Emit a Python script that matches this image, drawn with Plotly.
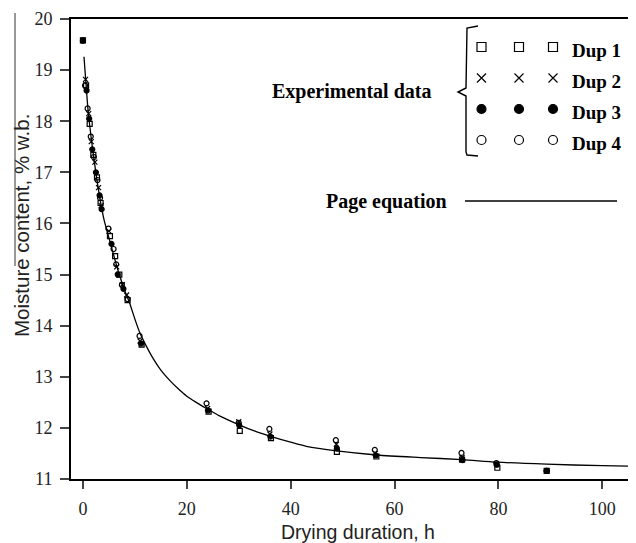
import plotly.graph_objects as go

# data
dup1_t = [0, 0.6, 1.3, 2.0, 2.7, 3.4, 5.2, 6.2, 7.0, 8.6, 11.3, 24.2, 30.2, 36.2, 48.9, 56.5, 73.0, 79.8, 89.3]
dup1_m = [19.58, 18.7, 17.95, 17.34, 16.9, 16.4, 15.75, 15.36, 15.0, 14.5, 13.63, 12.32, 11.94, 11.8, 11.53, 11.44, 11.38, 11.22, 11.16]

dup2_t = [0, 0.5, 1.1, 1.6, 2.3, 3.0, 3.5, 5.0, 6.5, 7.6, 8.4, 11.0, 24.0, 30.0, 36.0, 48.8, 56.3, 73.0, 79.6, 89.3]
dup2_m = [19.58, 18.82, 18.15, 17.6, 17.2, 16.7, 16.35, 15.85, 15.15, 14.8, 14.6, 13.7, 12.38, 12.12, 11.88, 11.68, 11.5, 11.42, 11.3, 11.16]

dup3_t = [0, 0.7, 1.2, 1.8, 2.5, 3.2, 3.6, 5.5, 6.7, 7.8, 11.2, 24.1, 30.1, 36.1, 48.9, 56.4, 73.1, 79.7, 89.3]
dup3_m = [19.58, 18.6, 18.05, 17.45, 17.0, 16.55, 16.28, 15.6, 15.0, 14.72, 13.65, 12.34, 12.05, 11.83, 11.6, 11.46, 11.37, 11.28, 11.16]

dup4_t = [0, 0.4, 0.9, 1.5, 2.1, 2.8, 3.3, 4.9, 5.9, 6.4, 7.5, 8.6, 10.9, 23.8, 30.0, 35.9, 48.7, 56.2, 72.9, 79.6, 89.3]
dup4_m = [19.58, 18.7, 18.25, 17.7, 17.3, 16.85, 16.5, 15.9, 15.5, 15.2, 14.8, 14.52, 13.8, 12.48, 12.1, 11.98, 11.76, 11.57, 11.51, 11.31, 11.16]

# Page equation curve
page_t = [0.2, 0.5, 1, 1.5, 2, 3, 4, 5, 6, 7, 8, 9, 10, 11, 12.2, 13.5, 15, 16.8, 18.4, 20, 21.8, 23.8, 26.4, 30.3, 33, 36.3,
          40, 43, 48.9, 56.6, 65, 73, 79.7, 89.3, 100, 107]
page_m = [19.26, 18.85, 18.2, 17.75, 17.35, 16.65, 16.1, 15.72, 15.35, 15.0, 14.7, 14.44, 14.13, 13.85, 13.6, 13.36, 13.13,
          12.92, 12.76, 12.62, 12.5, 12.38, 12.23, 12.05, 11.94, 11.83, 11.72, 11.64, 11.55, 11.47, 11.42, 11.38, 11.33,
          11.29, 11.26, 11.25]

x_ticks = [0, 20, 40, 60, 80, 100]
y_ticks = [11, 12, 13, 14, 15, 16, 17, 18, 19, 20]
dup_names = ['Dup 1', 'Dup 2', 'Dup 3', 'Dup 4']

# page pixels; the figure div sits 8px in from the page corner
PAGE_W, PAGE_H, OFF = 636, 543, 8
L, R, T, B = 71, 636, 19, 479


def px(x):
    return (x - L) / (R - L)


def py(y):
    return (B - y) / (B - T)


serif = 'Liberation Serif'
sans = 'Liberation Sans'
symbols = ['square-open', 'x-thin-open', 'circle', 'circle-open']


def label(x, y, text, anchor='center', **font):
    fig.add_annotation(x=px(x), y=py(y), xref='paper', yref='paper', text=text, showarrow=False,
                       xanchor=anchor, yanchor='middle', font=font)


fig = go.Figure()

fig.add_trace(go.Scatter(x=page_t, y=page_m, mode='lines', line_shape='spline', line_smoothing=0.8,
                         line=dict(color='black', width=1.3), hoverinfo='skip'))

for t, m, sym in zip([dup1_t, dup2_t, dup3_t, dup4_t], [dup1_m, dup2_m, dup3_m, dup4_m], symbols):
    fig.add_trace(go.Scatter(x=t, y=m, mode='markers',
                             marker=dict(symbol=sym, size=5, color='black',
                                         line=dict(color='black', width=1.2))))

# hand-drawn legend, placed on an overlay axis spanning the plot box
leg_x = [481.5, 519, 553]
leg_y = [47, 78, 109, 140]
for row, sym in enumerate(symbols):
    fig.add_trace(go.Scatter(x=[px(v) for v in leg_x], y=[py(leg_y[row])] * 3,
                             xaxis='x2', yaxis='y2', mode='markers',
                             marker=dict(symbol=sym, size=9, color='black',
                                         line=dict(color='black', width=1.2))))
    label(570, leg_y[row] + 3, '<b>%s</b>' % dup_names[row], 'left', family=serif, size=19, color='black')

label(433, 92, '<b>Experimental data</b>', 'right', family=serif, size=20, color='black')
label(449, 201, '<b>Page equation</b>', 'right', family=serif, size=20, color='black')
fig.add_shape(type='line', xref='paper', yref='paper', x0=px(465), x1=px(617), y0=py(201), y1=py(201),
              line=dict(color='black', width=1.3))

# curly bracket
bracket = 'M %f %f L %f %f L %f %f L %f %f L %f %f L %f %f L %f %f L %f %f' % (
    px(478), py(26), px(467), py(28), px(466), py(88), px(458), py(92),
    px(466), py(96), px(466), py(152), px(467), py(155), px(478), py(156))
fig.add_shape(type='path', path=bracket, xref='paper', yref='paper',
              line=dict(color='black', width=1.4))

# axis titles
fig.add_annotation(x=px(22), y=py(226), xref='paper', yref='paper', text='Moisture content, % w.b.',
                   textangle=-90, showarrow=False, xanchor='center', yanchor='middle',
                   font=dict(family=sans, size=20.5, color='#222'))
fig.add_shape(type='line', xref='paper', yref='paper', x0=px(15), x1=px(15), y0=py(13), y1=py(266),
              line=dict(color='#333', width=1))
label(358, 532, 'Drying duration, h', family=sans, size=19.5, color='#222')

fig.update_layout(
    width=PAGE_W - OFF, height=PAGE_H - OFF,
    margin=dict(l=L - OFF, r=PAGE_W - R, t=T - OFF, b=PAGE_H - B),
    plot_bgcolor='white', paper_bgcolor='white',
    showlegend=False,
    xaxis=dict(range=[-2.3, 106.5], tickvals=x_ticks, ticks='outside', ticklen=8, tickwidth=1.5,
               showline=True, linecolor='black', linewidth=2, mirror=True, showgrid=False, zeroline=False,
               tickfont=dict(family=serif, size=18, color='#222'), ticklabelstandoff=4),
    yaxis=dict(range=[11, 20], tickvals=y_ticks, ticks='outside', ticklen=9, tickwidth=1.5,
               showline=True, linecolor='black', linewidth=2, showgrid=False, zeroline=False,
               tickfont=dict(family=serif, size=18, color='#222'), ticklabelstandoff=4),
    xaxis2=dict(range=[0, 1], overlaying='x', visible=False),
    yaxis2=dict(range=[0, 1], overlaying='y', visible=False),
)

fig.write_html('out.html')
